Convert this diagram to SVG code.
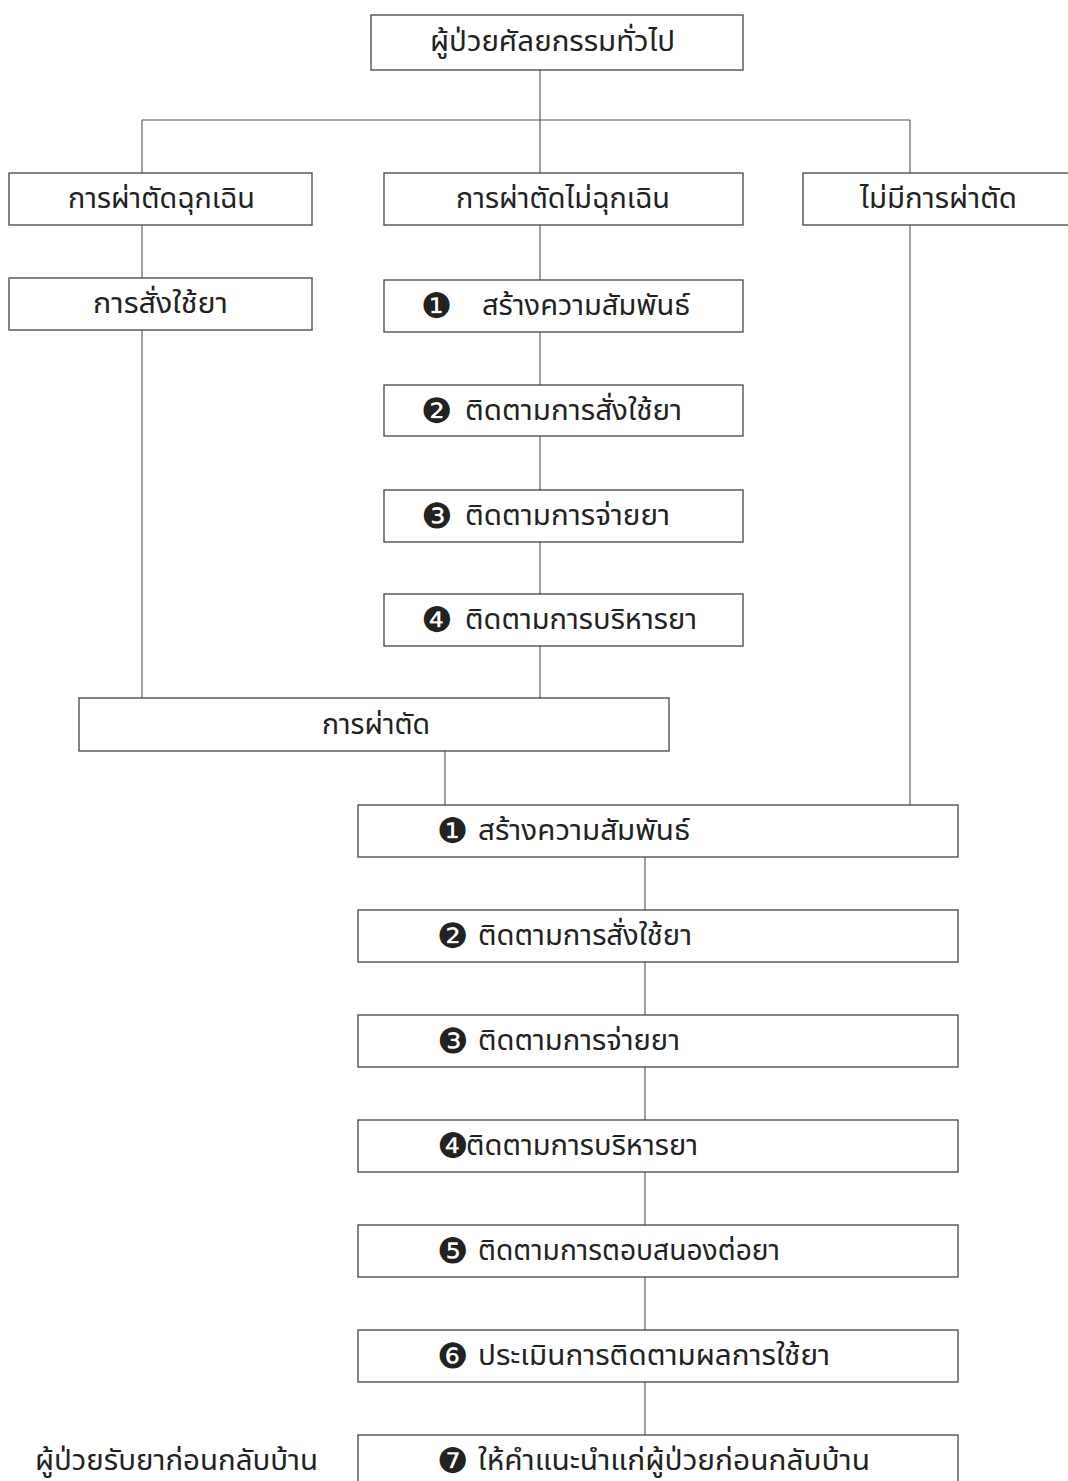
<svg xmlns="http://www.w3.org/2000/svg" width="1068" height="1481" viewBox="0 0 1068 1481">
<style>
.box{fill:#fff;stroke:#444;stroke-width:1.3}
.ln{fill:none;stroke:#555;stroke-width:1.1}
.t{font-family:"Noto Sans Thai","Noto Sans","DejaVu Sans",sans-serif;font-size:29px;fill:#222}
.n{font-family:"DejaVu Sans",sans-serif;font-size:35px;fill:#222}
</style>
<rect width="1068" height="1481" fill="#fff"/>
<g id="connectors">
<path class="ln" d="M540 70V120M142 120H910M142 120V173M540 120V173M910 120V173"/>
<path class="ln" d="M142 225V278M142 330V698"/>
<path class="ln" d="M540 225V280M540 332V385M540 436V490M540 542V594M540 646V698"/>
<path class="ln" d="M445 751V805M910 225V805"/>
<path class="ln" d="M645 857V910M645 962V1015M645 1067V1120M645 1172V1225M645 1277V1330M645 1382V1435"/>
</g>
<g id="n-top"><rect class="box" x="371" y="15" width="372" height="55"/><text class="t" x="430" y="51" textLength="245" lengthAdjust="spacingAndGlyphs">ผู้ป่วยศัลยกรรมทั่วไป</text></g>
<g id="n-emerg"><rect class="box" x="9" y="173" width="303" height="52"/><text class="t" x="68" y="208" textLength="187" lengthAdjust="spacingAndGlyphs">การผ่าตัดฉุกเฉิน</text></g>
<g id="n-elective"><rect class="box" x="384" y="173" width="359" height="52"/><text class="t" x="456" y="208" textLength="214" lengthAdjust="spacingAndGlyphs">การผ่าตัดไม่ฉุกเฉิน</text></g>
<g id="n-nosurg"><rect class="box" x="803" y="173" width="275" height="52"/><text class="t" x="860" y="208" textLength="157" lengthAdjust="spacingAndGlyphs">ไม่มีการผ่าตัด</text></g>
<g id="n-order"><rect class="box" x="9" y="278" width="303" height="52"/><text class="t" x="93" y="313" textLength="135" lengthAdjust="spacingAndGlyphs">การสั่งใช้ยา</text></g>
<g id="n-a1"><rect class="box" x="384" y="280" width="359" height="52"/><text class="n" x="421" y="318">❶</text><text class="t" x="482" y="315" textLength="208" lengthAdjust="spacingAndGlyphs">สร้างความสัมพันธ์</text></g>
<g id="n-a2"><rect class="box" x="384" y="385" width="359" height="51"/><text class="n" x="421" y="423">❷</text><text class="t" x="465" y="420" textLength="217" lengthAdjust="spacingAndGlyphs">ติดตามการสั่งใช้ยา</text></g>
<g id="n-a3"><rect class="box" x="384" y="490" width="359" height="52"/><text class="n" x="421" y="528">❸</text><text class="t" x="465" y="525" textLength="205" lengthAdjust="spacingAndGlyphs">ติดตามการจ่ายยา</text></g>
<g id="n-a4"><rect class="box" x="384" y="594" width="359" height="52"/><text class="n" x="421" y="632">❹</text><text class="t" x="465" y="629" textLength="232" lengthAdjust="spacingAndGlyphs">ติดตามการบริหารยา</text></g>
<g id="n-surgery"><rect class="box" x="79" y="698" width="590" height="53"/><text class="t" x="322" y="734" textLength="108" lengthAdjust="spacingAndGlyphs">การผ่าตัด</text></g>
<g id="n-b1"><rect class="box" x="358" y="805" width="600" height="52"/><text class="n" x="437" y="843">❶</text><text class="t" x="478" y="840" textLength="212" lengthAdjust="spacingAndGlyphs">สร้างความสัมพันธ์</text></g>
<g id="n-b2"><rect class="box" x="358" y="910" width="600" height="52"/><text class="n" x="437" y="948">❷</text><text class="t" x="478" y="945" textLength="214" lengthAdjust="spacingAndGlyphs">ติดตามการสั่งใช้ยา</text></g>
<g id="n-b3"><rect class="box" x="358" y="1015" width="600" height="52"/><text class="n" x="437" y="1053">❸</text><text class="t" x="478" y="1050" textLength="202" lengthAdjust="spacingAndGlyphs">ติดตามการจ่ายยา</text></g>
<g id="n-b4"><rect class="box" x="358" y="1120" width="600" height="52"/><text class="n" x="437" y="1158">❹</text><text class="t" x="466" y="1155" textLength="232" lengthAdjust="spacingAndGlyphs">ติดตามการบริหารยา</text></g>
<g id="n-b5"><rect class="box" x="358" y="1225" width="600" height="52"/><text class="n" x="437" y="1263">❺</text><text class="t" x="478" y="1260" textLength="302" lengthAdjust="spacingAndGlyphs">ติดตามการตอบสนองต่อยา</text></g>
<g id="n-b6"><rect class="box" x="358" y="1330" width="600" height="52"/><text class="n" x="437" y="1368">❻</text><text class="t" x="478" y="1365" textLength="352" lengthAdjust="spacingAndGlyphs">ประเมินการติดตามผลการใช้ยา</text></g>
<g id="n-b7"><rect class="box" x="358" y="1435" width="600" height="60"/><text class="n" x="437" y="1473">❼</text><text class="t" x="478" y="1470" textLength="392" lengthAdjust="spacingAndGlyphs">ให้คำแนะนำแก่ผู้ป่วยก่อนกลับบ้าน</text></g>
<g id="label-home"><text class="t" x="35" y="1470" textLength="283" lengthAdjust="spacingAndGlyphs">ผู้ป่วยรับยาก่อนกลับบ้าน</text></g>
</svg>
